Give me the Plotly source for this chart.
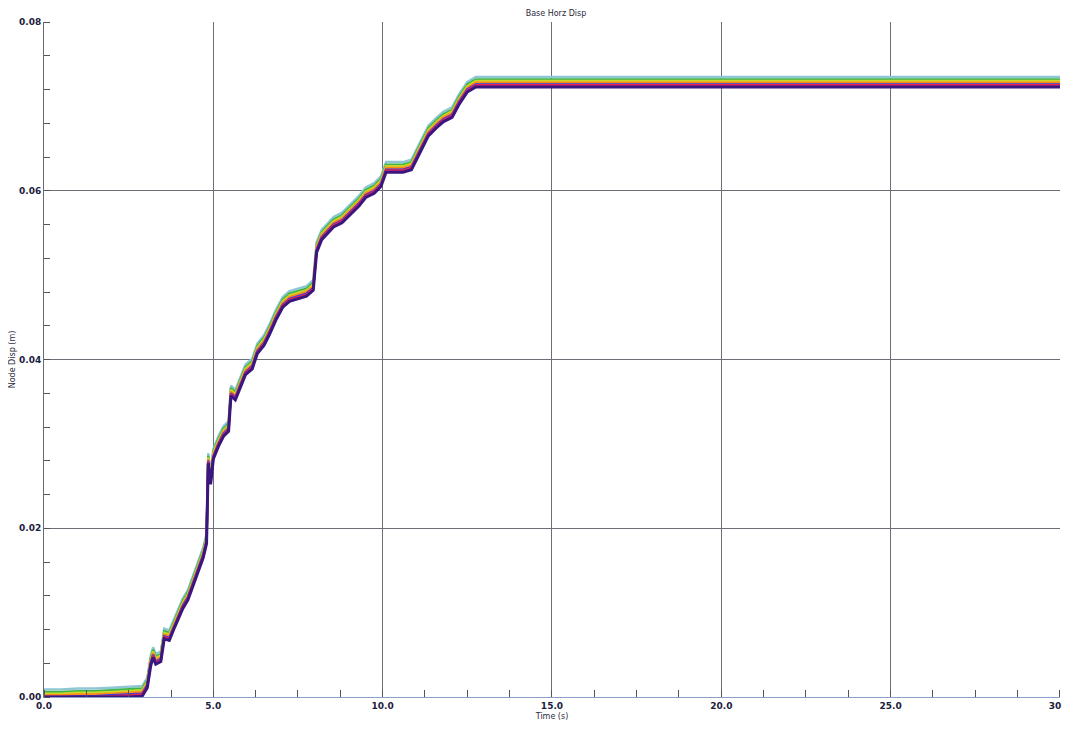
import plotly.graph_objects as go

# Time (s) and node displacement (m) of the reference (blue) trace
time_s = [0.0, 0.5, 1.0, 1.5, 2.0, 2.5, 2.9, 3.05, 3.15, 3.22, 3.3, 3.45, 3.55, 3.7,
          3.85, 4.0, 4.1, 4.25, 4.4, 4.55, 4.7, 4.8, 4.85, 4.92, 5.0, 5.15, 5.3, 5.45,
          5.52, 5.65, 5.8, 5.95, 6.15, 6.3, 6.5, 6.65, 6.85, 7.05, 7.25, 7.5, 7.75,
          7.95, 8.05, 8.2, 8.35, 8.55, 8.8, 9.05, 9.3, 9.5, 9.75, 9.95, 10.1, 10.3,
          10.6, 10.85, 11.0, 11.2, 11.35, 11.6, 11.8, 12.05, 12.25, 12.5, 12.75,
          15.0, 20.0, 25.0, 30.0]
disp_blue = [0.0000, 0.0000, 0.0001, 0.0001, 0.0002, 0.0003, 0.0004, 0.0014, 0.0040,
             0.0050, 0.0042, 0.0045, 0.0072, 0.0070, 0.0085, 0.0098, 0.0108, 0.0118,
             0.0135, 0.0150, 0.0168, 0.0185, 0.0280, 0.0255, 0.0285, 0.0300, 0.0312,
             0.0318, 0.0360, 0.0355, 0.0370, 0.0385, 0.0392, 0.0410, 0.0420, 0.0432,
             0.0450, 0.0465, 0.0472, 0.0475, 0.0478, 0.0485, 0.0530, 0.0545, 0.0552,
             0.0560, 0.0565, 0.0575, 0.0585, 0.0595, 0.0600, 0.0608, 0.0625, 0.0625,
             0.0625, 0.0628, 0.0640, 0.0655, 0.0668, 0.0678, 0.0685, 0.0690, 0.0705,
             0.0720, 0.0726, 0.0726, 0.0726, 0.0726, 0.0726]

# Per-node offsets read at the plateau (relative to the blue trace), top to bottom
series_names = ["Node 7", "Node 6", "Node 5", "Node 4", "Node 3", "Node 2", "Node 1"]
series_offsets = [0.0009, 0.0006, 0.0004, 0.0002, 0.0000, -0.0001, -0.0003]
series_colors = ["#8fc6d6", "#3cb44b", "#c9d62a", "#ff8c1a", "#2440f0", "#e0245e", "#3a1680"]

x_ticks = [0, 5, 10, 15, 20, 25, 30]
x_labels = ["0.0", "5.0", "10.0", "15.0", "20.0", "25.0", "30.0"]
y_ticks = [0.0, 0.02, 0.04, 0.06, 0.08]
y_labels = ["0.00", "0.02", "0.04", "0.06", "0.08"]

fig = go.Figure()
for name, off, col in zip(series_names, series_offsets, series_colors):
    fig.add_trace(go.Scatter(
        x=time_s, y=[max(v + off, 0.0) for v in disp_blue], mode="lines", name=name,
        line=dict(color=col, width=2.4 if col != "#3a1680" else 3.0),
        showlegend=False, cliponaxis=False))

tick_font = dict(family="DejaVu Sans", size=9, color="#1c1c3c", weight="bold")
title_font = dict(family="DejaVu Sans", size=8, color="#2a2a3a")
fig.update_layout(
    width=1062, height=721,
    margin=dict(l=36, r=10, t=14, b=32, autoexpand=False),
    paper_bgcolor="white", plot_bgcolor="white",
    title=dict(text="Base Horz Disp", x=0.516, xanchor="center", y=0.997, yanchor="top",
               font=title_font),
    xaxis=dict(range=[0, 30.001], tickvals=x_ticks, ticktext=x_labels, tickfont=tick_font,
               ticklabeloverflow="allow",
               showgrid=True, gridcolor="#6e6e76", gridwidth=1,
               showline=True, linecolor="#8aa0c8", linewidth=1, mirror=False,
               ticks="", zeroline=False, automargin=False,
               minor=dict(dtick=1.25, tick0=0, ticks="inside", ticklen=7,
                          tickcolor="#555", showgrid=False),
               title=dict(text="Time (s)", standoff=3, font=title_font)),
    yaxis=dict(range=[0, 0.08], tickvals=y_ticks, ticktext=y_labels, tickfont=tick_font,
               ticklabeloverflow="allow",
               showgrid=True, gridcolor="#6e6e76", gridwidth=1,
               showline=True, linecolor="#6a6a72", linewidth=1,
               ticks="", zeroline=False, automargin=False,
               minor=dict(dtick=0.004, tick0=0, ticks="inside", ticklen=6,
                          tickcolor="#555", showgrid=False),
               title=dict(text="Node Disp (m)", standoff=6, font=title_font)),
)
fig.write_html("out.html")
